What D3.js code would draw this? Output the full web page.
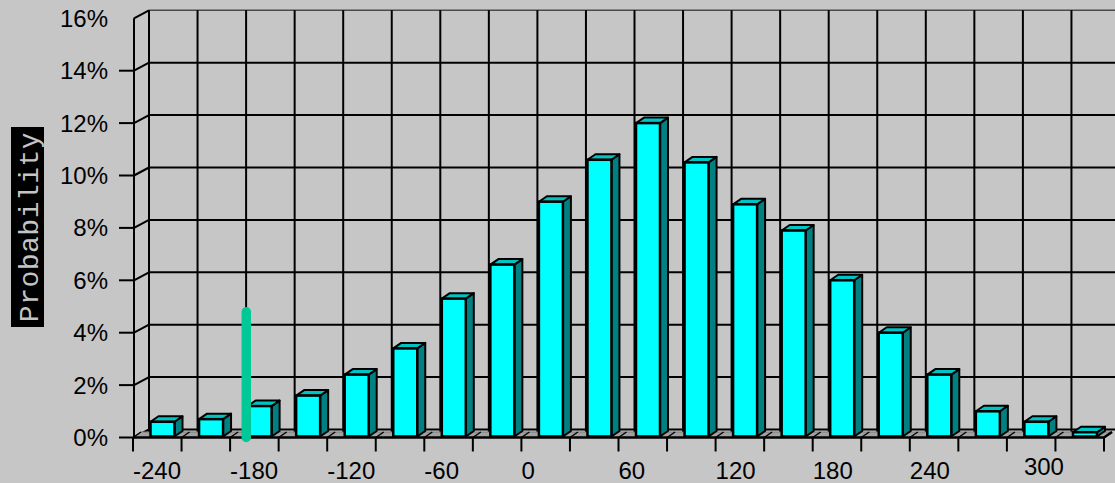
<!DOCTYPE html>
<html>
<head>
<meta charset="utf-8">
<script src="https://cdn.jsdelivr.net/npm/d3@7"></script>
<style>
  html, body { margin: 0; padding: 0; background: #c6c6c6; overflow: hidden; }
  svg { display: block; }
</style>
</head>
<body>
<svg id="chart" width="1115" height="483"></svg>
<script>
// Bin start values of the distribution (each bin is 30 wide)
const binStarts = [-240, -210, -180, -150, -120, -90, -60, -30, 0, 30,
                   60, 90, 120, 150, 180, 210, 240, 270, 300, 330];
const binWidth = 30;
// Probability of each bin, in percent
const probabilities = [0.6, 0.7, 1.2, 1.6, 2.4, 3.4, 5.3, 6.6, 9.0, 10.6,
                       12.0, 10.5, 8.9, 7.9, 6.0, 4.0, 2.4, 1.0, 0.6, 0.2];
// Value axis ticks (percent) and category axis labels
const yTicks = [0, 2, 4, 6, 8, 10, 12, 14, 16];
const xLabels = [-240, -180, -120, -60, 0, 60, 120, 180, 240, 300];
// Reference marker drawn as a vertical bar
const markerValue = -170;
const markerHeight = 4.8;
const axisTitle = "Probability";

const W = 1115, H = 483;
const svg = d3.select("#chart");

const x = d3.scaleLinear()
  .domain([binStarts[0], binStarts[binStarts.length - 1] + binWidth])
  .range([133, 1104]);
const y = d3.scaleLinear().domain([0, 16]).range([437.5, 18.3]);

// depth offsets of the pseudo-3D box
const wall = { dx: 16, dy: -8 };
const barDepth = { dx: 8, dy: -5.5 };
const floorDepth = { dx: 8, dy: -5.5 };
const barInset = 17.5, barW = 24;

const boundaries = binStarts.concat([binStarts[binStarts.length - 1] + binWidth]);
const x0 = x.range()[0], x1 = x.range()[1];
const floorBack = y(0) + floorDepth.dy;
const labelFont = "'Liberation Sans', Arial, sans-serif";

svg.append("rect").attr("width", W).attr("height", H).attr("fill", "#c6c6c6");

// back wall: horizontal gridlines
const back = svg.append("g");
back.selectAll("line.h").data(yTicks).join("line")
  .attr("x1", x0 + wall.dx).attr("x2", W + 5)
  .attr("y1", d => y(d) + wall.dy).attr("y2", d => y(d) + wall.dy)
  .attr("stroke", d => d === 16 ? "#4a4a4a" : "#000")
  .attr("stroke-width", d => d === 16 ? 1.5 : 2);
// back wall: vertical gridlines at bin boundaries
back.selectAll("line.v").data(boundaries).join("line")
  .attr("x1", d => x(d) + wall.dx).attr("x2", d => x(d) + wall.dx)
  .attr("y1", y(16) + wall.dy).attr("y2", floorBack)
  .attr("stroke", "#000").attr("stroke-width", 2);

// side wall diagonals
svg.append("g").selectAll("line").data(yTicks).join("line")
  .attr("x1", x0 + 1).attr("y1", d => y(d))
  .attr("x2", x0 + wall.dx).attr("y2", d => y(d) + wall.dy)
  .attr("stroke", "#000").attr("stroke-width", 2);

// floor strip
svg.append("polygon")
  .attr("points", [[x0, y(0)], [x1, y(0)], [x1 + floorDepth.dx, floorBack], [x0 + floorDepth.dx, floorBack]].join(" "))
  .attr("fill", "#a2a2a2").attr("stroke", "#7a7a7a").attr("stroke-width", 1);
svg.append("g").selectAll("line").data(boundaries).join("line")
  .attr("x1", d => x(d)).attr("y1", y(0))
  .attr("x2", d => x(d) + floorDepth.dx).attr("y2", floorBack)
  .attr("stroke", "#000").attr("stroke-width", 1.5);

// value axis (front)
svg.append("line")
  .attr("x1", x0 + 1).attr("x2", x0 + 1)
  .attr("y1", y(16)).attr("y2", y(0))
  .attr("stroke", "#000").attr("stroke-width", 2);
svg.append("g").selectAll("line").data(yTicks.filter(d => d < 16)).join("line")
  .attr("x1", x0 - 14).attr("x2", x0 + 1)
  .attr("y1", d => y(d)).attr("y2", d => y(d))
  .attr("stroke", "#000").attr("stroke-width", 2);
svg.append("g").selectAll("text").data(yTicks).join("text")
  .attr("x", 108).attr("y", d => y(d) + 8.5)
  .attr("text-anchor", "end")
  .attr("font-family", labelFont)
  .attr("font-size", 24).attr("fill", "#000")
  .text(d => d + "%");

// bars
const bars = svg.append("g").selectAll("g").data(probabilities).join("g");
const bx = (d, i) => x(binStarts[i]) + barInset;
const bottom = y(0) - 1;
bars.append("polygon")
  .attr("points", (d, i) => {
    const l = bx(d, i) + barW, t = y(d);
    return [[l, t], [l + barDepth.dx, t + barDepth.dy], [l + barDepth.dx, bottom + barDepth.dy], [l, bottom]].join(" ");
  })
  .attr("fill", "#008080").attr("stroke", "#000").attr("stroke-width", 2).attr("stroke-linejoin", "round");
bars.append("polygon")
  .attr("points", (d, i) => {
    const l = bx(d, i), t = y(d);
    return [[l, t], [l + barDepth.dx, t + barDepth.dy], [l + barW + barDepth.dx, t + barDepth.dy], [l + barW, t]].join(" ");
  })
  .attr("fill", "#00c4c4").attr("stroke", "#000").attr("stroke-width", 2).attr("stroke-linejoin", "round");
bars.append("rect")
  .attr("x", bx).attr("y", d => y(d))
  .attr("width", barW).attr("height", d => bottom - y(d))
  .attr("fill", "#00ffff").attr("stroke", "#000").attr("stroke-width", 2.5);

// category axis (front)
svg.append("polyline")
  .attr("points", [[x0, y(0)], [x1, y(0)], [x1 + floorDepth.dx, floorBack]].join(" "))
  .attr("fill", "none").attr("stroke", "#000").attr("stroke-width", 2.5);
svg.append("g").selectAll("line").data(boundaries).join("line")
  .attr("x1", d => x(d)).attr("x2", d => x(d))
  .attr("y1", y(0)).attr("y2", y(0) + 14)
  .attr("stroke", "#000").attr("stroke-width", 2);
svg.append("g").selectAll("text").data(xLabels).join("text")
  .attr("x", d => x(d)).attr("y", 479)
  .attr("dx", d => d === 300 ? 17 : 0)
  .attr("dy", d => d === 300 ? -4 : 0)
  .attr("text-anchor", "start")
  .attr("font-family", labelFont)
  .attr("font-size", 24).attr("fill", "#000")
  .text(d => d);

// marker
svg.append("line")
  .attr("x1", x(markerValue)).attr("x2", x(markerValue))
  .attr("y1", y(0)).attr("y2", y(markerHeight))
  .attr("stroke", "#00c896").attr("stroke-width", 9.5).attr("stroke-linecap", "round");

// axis title
svg.append("rect").attr("x", 11).attr("y", 127).attr("width", 33).attr("height", 200).attr("fill", "#000");
svg.append("text")
  .attr("transform", "translate(28,227) rotate(-90)")
  .attr("text-anchor", "middle").attr("dy", "0.35em")
  .attr("font-family", "'Liberation Mono', 'DejaVu Sans Mono', monospace")
  .attr("font-size", 28).attr("letter-spacing", 0.5)
  .attr("fill", "#c4c4c4")
  .text(axisTitle);
</script>
</body>
</html>
